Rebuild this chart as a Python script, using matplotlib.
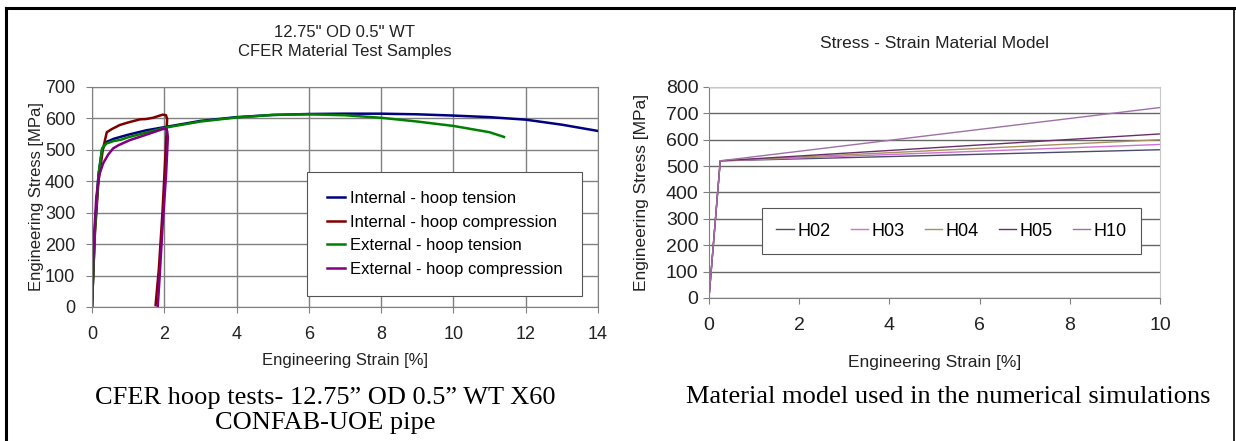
import matplotlib.pyplot as plt
from matplotlib.lines import Line2D

# CFER hoop test curves (strain in %, stress in MPa)
int_tension_strain = [0.0, 0.08, 0.18, 0.28, 0.4, 0.6, 1.0, 1.5, 2.0, 3.0, 4.0, 5.0,
                      6.0, 7.0, 8.0, 9.0, 10.0, 11.0, 12.0, 13.0, 14.0]
int_tension_stress = [0, 250, 420, 500, 525, 535, 548, 562, 572, 592, 604, 611,
                      614, 615, 615, 613, 609, 604, 596, 580, 560]

int_comp_strain = [0.0, 0.08, 0.18, 0.3, 0.41, 0.55, 0.77, 1.0, 1.33, 1.5, 1.69, 1.85,
                   1.96, 2.05, 2.08, 2.04, 1.95, 1.85, 1.76]
int_comp_stress = [0, 230, 400, 500, 556, 566, 579, 587, 597, 598, 602, 608,
                   612, 610, 598, 500, 300, 120, 6]

ext_tension_strain = [0.0, 0.08, 0.18, 0.28, 0.4, 0.6, 0.8, 1.0, 1.5, 2.0, 3.0, 4.0,
                      5.0, 6.0, 7.0, 8.0, 9.0, 10.0, 11.0, 11.4]
ext_tension_stress = [0, 240, 420, 505, 520, 528, 532, 540, 555, 570, 590, 603,
                      611, 613, 610, 602, 590, 576, 556, 541]

ext_comp_strain = [0.0, 0.05, 0.12, 0.2, 0.31, 0.45, 0.59, 0.74, 1.05, 1.5, 1.93,
                   2.03, 2.08, 2.1, 2.05, 1.95, 1.88, 1.82]
ext_comp_stress = [0, 200, 350, 420, 457, 485, 505, 515, 531, 548, 565,
                   568, 560, 540, 420, 250, 110, 0]

# bilinear material model: elastic up to yield, then linear hardening
model_names = ['H02', 'H03', 'H04', 'H05', 'H10']
model_strain = [0.0, 0.25, 10.0]
model_stress = [
    [0, 520, 562],
    [0, 520, 582],
    [0, 520, 600],
    [0, 520, 622],
    [0, 520, 722],
]
model_colors = ['#4a4a6e', '#d070d0', '#a89060', '#6a2f6a', '#a070a8']

fig = plt.figure(figsize=(12.36, 4.41), dpi=100)
plt.rcParams['font.family'] = ['Liberation Sans', 'DejaVu Sans']

# left panel
ax1 = fig.add_axes([0.0744, 0.3039, 0.4094, 0.4989])
ax1.plot(int_tension_strain, int_tension_stress, color='#000080', lw=1.8,
         label='Internal - hoop tension')
ax1.plot(int_comp_strain, int_comp_stress, color='#800000', lw=1.8,
         label='Internal - hoop compression')
ax1.plot(ext_tension_strain, ext_tension_stress, color='#008000', lw=1.8,
         label='External - hoop tension')
ax1.plot(ext_comp_strain, ext_comp_stress, color='#800080', lw=1.8,
         label='External - hoop compression')
ax1.set_xlim(0, 14)
ax1.set_ylim(0, 700)
ax1.set_xticks(range(0, 15, 2))
ax1.set_yticks(range(0, 701, 100))
ax1.grid(True, color='#808080', lw=1)
ax1.set_axisbelow(True)
for s in ax1.spines.values():
    s.set_color('#808080')
ax1.tick_params(colors='#808080', labelcolor='#222222', labelsize=13, length=4)
ax1.tick_params(axis='x', pad=10)
ax1.tick_params(axis='y', pad=8)
ax1.set_xlabel('Engineering Strain [%]', fontsize=12, color='#222222', labelpad=7)
ax1.set_ylabel('Engineering Stress [MPa]', fontsize=12, color='#222222', labelpad=1)
ax1.set_title('12.75" OD 0.5" WT\nCFER Material Test Samples', fontsize=12,
              color='#222222', pad=22, linespacing=1.4)
leg1 = ax1.legend(loc='lower right', bbox_to_anchor=(0.968, 0.05), borderaxespad=0,
                  fontsize=12, handlelength=1.1, handletextpad=0.3, labelspacing=0.51,
                  fancybox=False, framealpha=1, borderpad=1.15)
leg1.get_frame().set_edgecolor('#555555')
leg1.get_frame().set_linewidth(0.8)

# right panel
ax2 = fig.add_axes([0.5736, 0.3243, 0.3649, 0.4785])
for name, stress, col in zip(model_names, model_stress, model_colors):
    ax2.plot(model_strain, stress, color=col, lw=1.0, label=name)
ax2.set_xlim(0, 10)
ax2.set_ylim(0, 800)
ax2.set_xticks(range(0, 11, 2))
ax2.set_yticks(range(0, 801, 100))
ax2.yaxis.grid(True, color='#666666', lw=1)
ax2.set_axisbelow(True)
for side in ['top', 'right']:
    ax2.spines[side].set_color('#c8c8c8')
for side in ['left', 'bottom']:
    ax2.spines[side].set_color('#808080')
ax2.tick_params(colors='#808080', labelcolor='#222222', labelsize=14, length=4)
ax2.tick_params(axis='x', pad=10)
ax2.set_xlabel('Engineering Strain [%]', fontsize=12.5, color='#222222', labelpad=15)
ax2.set_ylabel('Engineering Stress [MPa]', fontsize=12.5, color='#222222', labelpad=12)
ax2.set_title('Stress - Strain Material Model', fontsize=12.5, color='#222222', pad=28)
handles = [Line2D([], [], color=c, lw=1.0) for c in model_colors]
leg2 = ax2.legend(handles, model_names, loc='lower left', bbox_to_anchor=(0.1175, 0.2085),
                  borderaxespad=0, ncol=5, fontsize=13, handlelength=0.95,
                  handletextpad=0.2, columnspacing=1.12, fancybox=False, framealpha=1,
                  borderpad=0.8)
leg2.get_frame().set_edgecolor('#555555')
leg2.get_frame().set_linewidth(0.8)

# captions below each panel
fig.text(0.263, 1 - 410.5 / 441, 'CFER hoop tests- 12.75\u201d OD 0.5\u201d WT X60\nCONFAB-UOE pipe',
         ha='center', va='center', fontsize=19, family='Liberation Serif',
         linespacing=1.12)
fig.text(0.767, 1 - 397 / 441, 'Material model used in the numerical simulations',
         ha='center', va='center', fontsize=19, family='Liberation Serif')

# frame lines around the layout
fig.add_artist(Line2D([6 / 1236, 1235 / 1236], [1 - 8 / 441] * 2, color='black', lw=2.2))
fig.add_artist(Line2D([6 / 1236] * 2, [0, 1 - 8 / 441], color='black', lw=2.2))
fig.add_artist(Line2D([1234 / 1236] * 2, [0, 1 - 8 / 441], color='black', lw=1.2))

fig.savefig('out.png', dpi=100)
